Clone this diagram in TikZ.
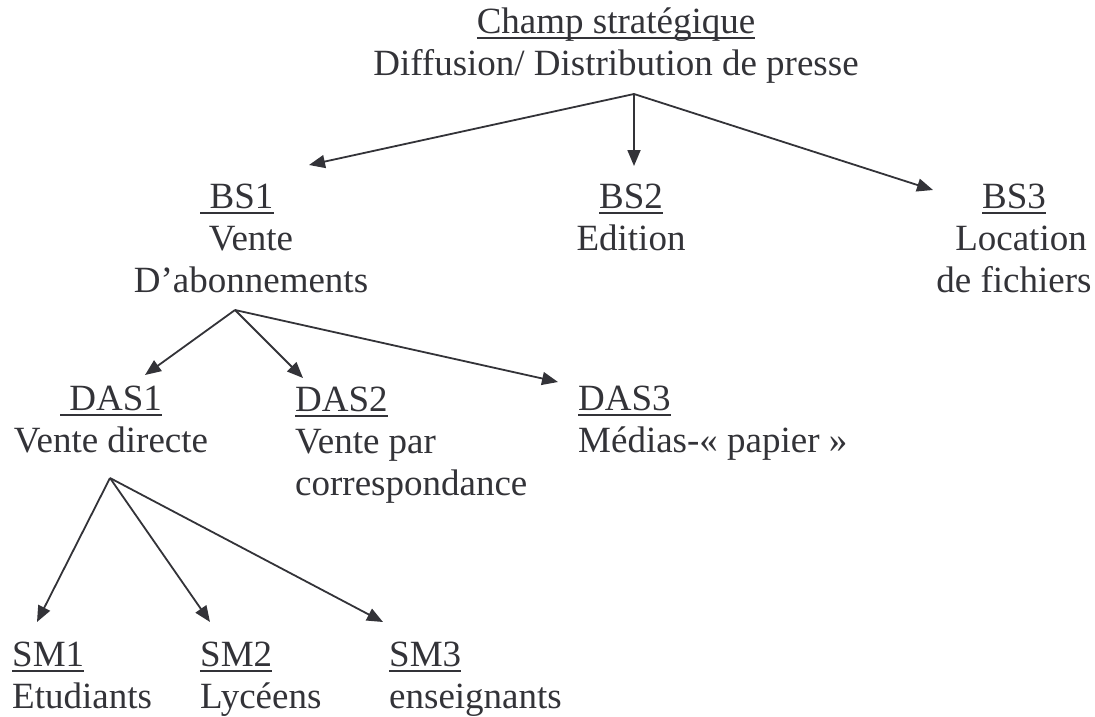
\documentclass[tikz,border=0pt]{standalone}
\usepackage{fontspec}
\setmainfont{Liberation Serif}
\usepackage{tikz}
\usetikzlibrary{arrows.meta}
\definecolor{inkgray}{RGB}{51,51,56}
\newsavebox{\soulbox}
\newcommand{\souligne}[1]{\sbox{\soulbox}{#1}\rlap{\rule[-6.2pt]{\wd\soulbox}{2.4pt}}\usebox{\soulbox}}

\begin{document}
\begin{tikzpicture}[x=1pt, y=-1pt,
        every node/.style={font=\fontsize{37}{42}\selectfont, text=inkgray, inner sep=0pt},
        fleche/.style={-{Triangle[length=16pt, width=13pt]}, line width=1.8pt, inkgray}]
        \useasboundingbox (0,0) rectangle (1095,717);

        % champ strategique (base = derniere ligne)
        \node[anchor=base, align=center] (champ) at (616,75) {\souligne{Champ stratégique}\\Diffusion/ Distribution de presse};
        \coordinate (champbas) at (634,94);

        % BS
        \node[anchor=base, align=center] (bs1) at (251,292) {\souligne{\ BS1}\hspace*{28pt}\\Vente\hspace*{12pt}\\D’abonnements};
        \node[anchor=base, align=center] (bs2) at (631,250) {\souligne{BS2}\\Edition};
        \node[anchor=base, align=center] (bs3) at (1014,292) {\souligne{BS3}\\\hspace*{14pt}Location\\de fichiers};
        \coordinate (bs1haut) at (309,165);
        \coordinate (bs2haut) at (634,166);
        \coordinate (bs3haut) at (933,190);
        \coordinate (bs1bas) at (235,310);

        % DAS
        \node[anchor=base, align=center] (das1) at (111,452) {\souligne{\ DAS1}\\Vente directe};
        \node[anchor=base west, align=left] (das2) at (295,495) {\souligne{DAS2}\\Vente par\\correspondance};
        \node[anchor=base west, align=left] (das3) at (578,452) {\souligne{DAS3}\\Médias-«~papier~»};
        \coordinate (das1haut) at (145,375);
        \coordinate (das2haut) at (303,378);
        \coordinate (das3haut) at (558,382);
        \coordinate (das1bas) at (110,478);

        % SM
        \node[anchor=base west, align=left] (sm1) at (12,708) {\souligne{SM1}\\Etudiants};
        \node[anchor=base west, align=left] (sm2) at (200,708) {\souligne{SM2}\\Lycéens};
        \node[anchor=base west, align=left] (sm3) at (389,708) {\souligne{SM3}\\enseignants};
        \coordinate (sm1haut) at (37,622);
        \coordinate (sm2haut) at (210,622);
        \coordinate (sm3haut) at (383,622);

        % fleches
        \foreach \cible in {bs1haut, bs2haut, bs3haut}
            \draw[fleche] (champbas) -- (\cible);
        \foreach \cible in {das1haut, das2haut, das3haut}
            \draw[fleche] (bs1bas) -- (\cible);
        \foreach \cible in {sm1haut, sm2haut, sm3haut}
            \draw[fleche] (das1bas) -- (\cible);
    \end{tikzpicture}
\end{document}
